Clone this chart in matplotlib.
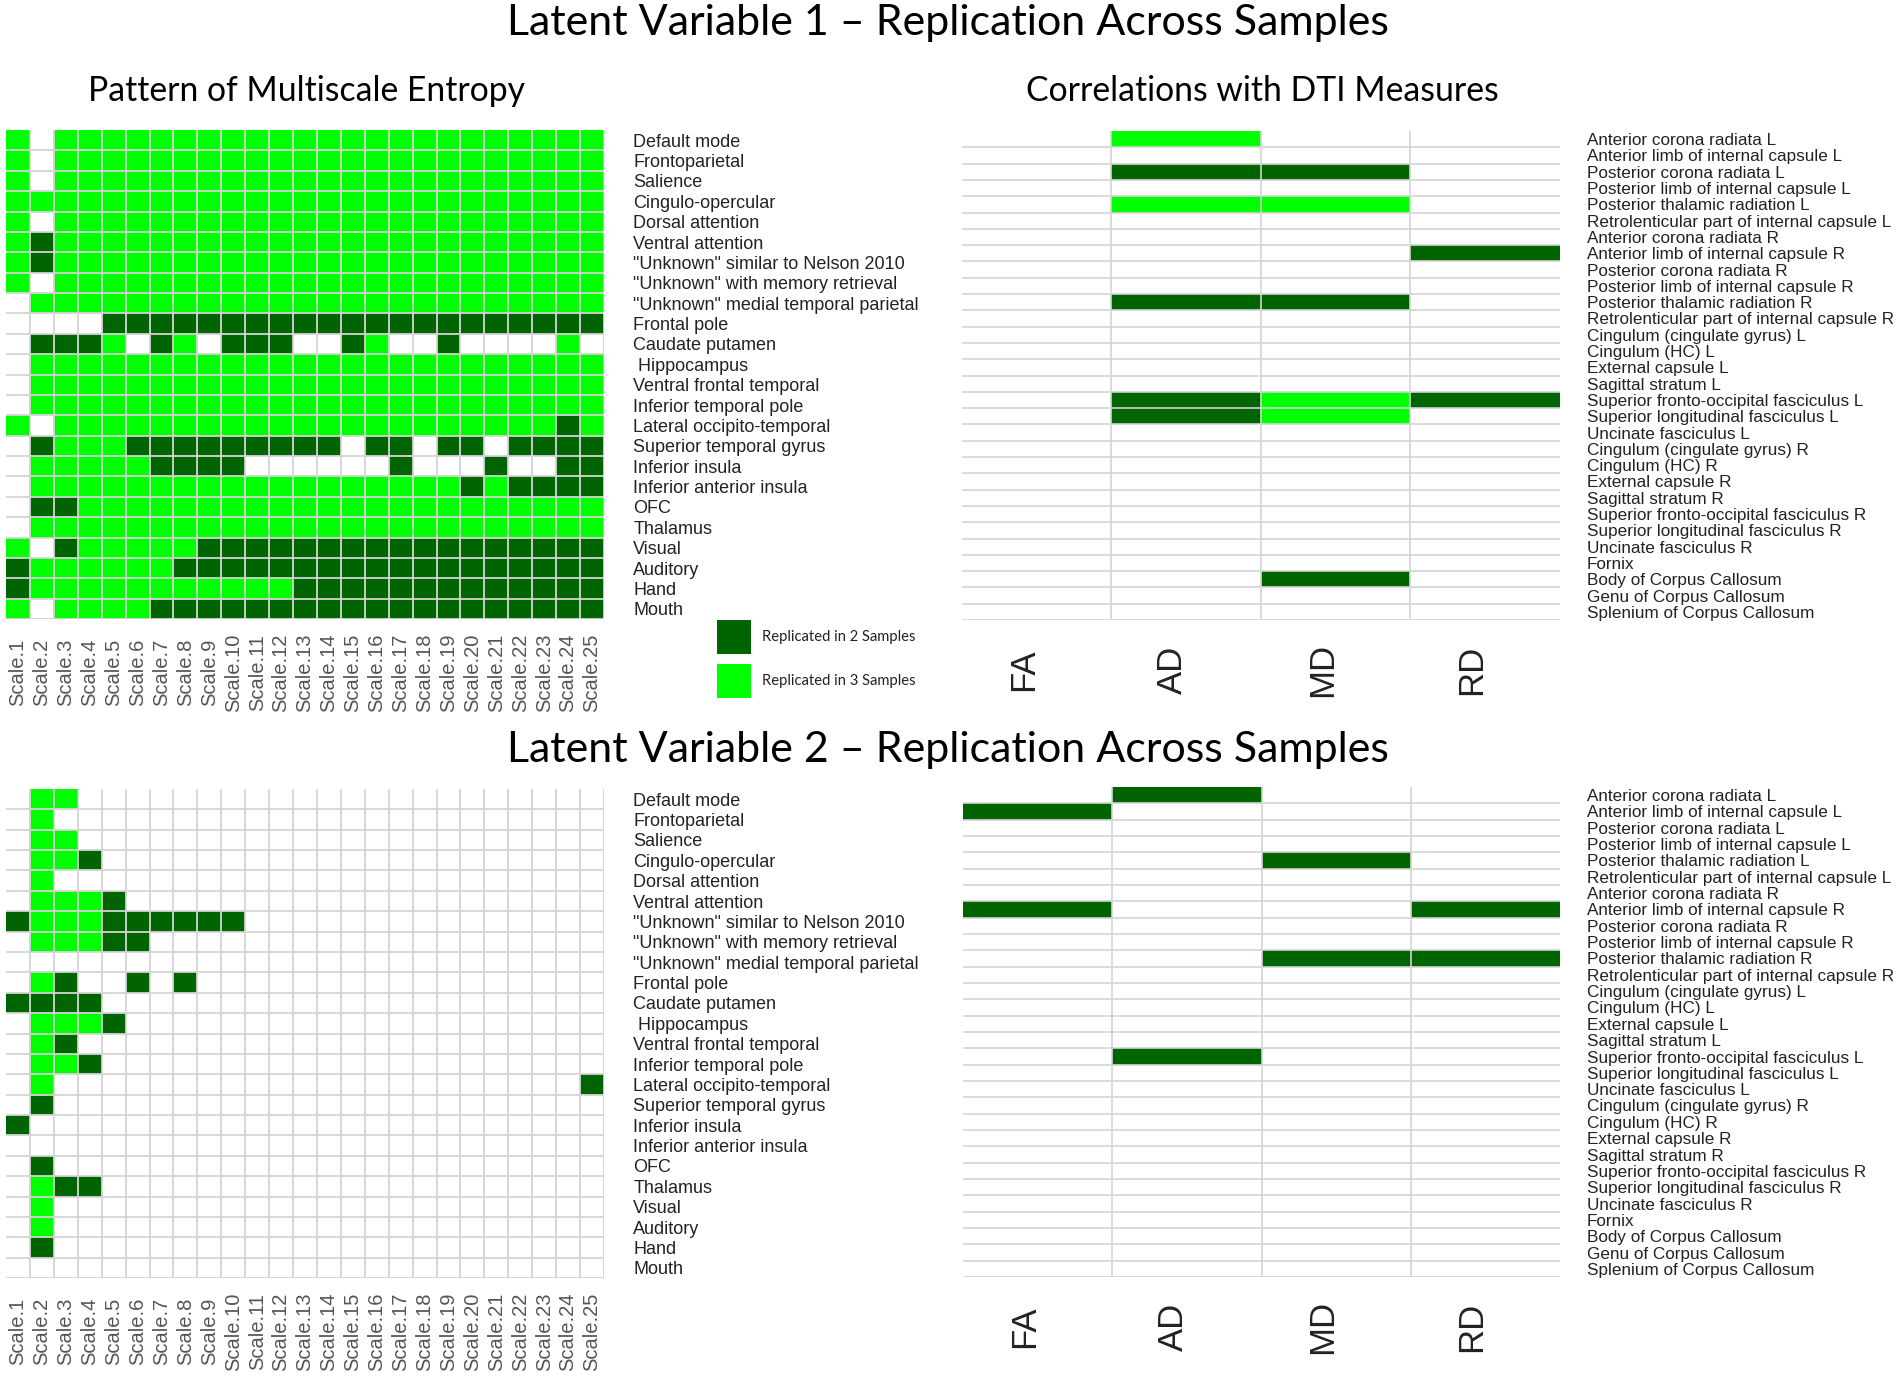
import numpy as np
import matplotlib
matplotlib.use('Agg')
import matplotlib.pyplot as plt
from matplotlib.colors import ListedColormap, BoundaryNorm
from matplotlib.patches import Rectangle

# ---- data -------------------------------------------------------------
networks = ['Default mode', 'Frontoparietal', 'Salience', 'Cingulo-opercular',
            'Dorsal attention', 'Ventral attention',
            '"Unknown" similar to Nelson 2010', '"Unknown" with memory retrieval',
            '"Unknown" medial temporal parietal', 'Frontal pole', 'Caudate putamen',
            ' Hippocampus', 'Ventral frontal temporal', 'Inferior temporal pole',
            'Lateral occipito-temporal', 'Superior temporal gyrus', 'Inferior insula',
            'Inferior anterior insula', 'OFC', 'Thalamus', 'Visual', 'Auditory',
            'Hand', 'Mouth']
scales = ['Scale.%d' % i for i in range(1, 26)]

tracts = ['Anterior corona radiata L', 'Anterior limb of internal capsule L',
          'Posterior corona radiata L', 'Posterior limb of internal capsule L',
          'Posterior thalamic radiation L', 'Retrolenticular part of internal capsule L',
          'Anterior corona radiata R', 'Anterior limb of internal capsule R',
          'Posterior corona radiata R', 'Posterior limb of internal capsule R',
          'Posterior thalamic radiation R', 'Retrolenticular part of internal capsule R',
          'Cingulum (cingulate gyrus) L', 'Cingulum (HC) L', 'External capsule L',
          'Sagittal stratum L', 'Superior fronto-occipital fasciculus L',
          'Superior longitudinal fasciculus L', 'Uncinate fasciculus L',
          'Cingulum (cingulate gyrus) R', 'Cingulum (HC) R', 'External capsule R',
          'Sagittal stratum R', 'Superior fronto-occipital fasciculus R',
          'Superior longitudinal fasciculus R', 'Uncinate fasciculus R', 'Fornix',
          'Body of Corpus Callosum', 'Genu of Corpus Callosum',
          'Splenium of Corpus Callosum']
measures = ['FA', 'AD', 'MD', 'RD']

# 0 = not replicated, 2 = replicated in 2 samples, 3 = replicated in 3 samples
lv1_mse = [
    '3033333333333333333333333',
    '3033333333333333333333333',
    '3033333333333333333333333',
    '3333333333333333333333333',
    '3033333333333333333333333',
    '3233333333333333333333333',
    '3233333333333333333333333',
    '3033333333333333333333333',
    '0333333333333333333333333',
    '0000222222222222222222222',
    '0222302302220023002000030',
    '0333333333333333333333333',
    '0333333333333333333333333',
    '0333333333333333333333333',
    '3033333333333333333333323',
    '0233322222222202202202222',
    '0333332222000000200020022',
    '0333333333333333333232222',
    '0223333333333333333333333',
    '0333333333333333333333333',
    '3023333322222222222222222',
    '2333333222222222222222222',
    '2333333333332222222222222',
    '3033332222222222222222222',
]
lv2_mse = [
    '0330000000000000000000000',
    '0300000000000000000000000',
    '0330000000000000000000000',
    '0332000000000000000000000',
    '0300000000000000000000000',
    '0333200000000000000000000',
    '2333222222000000000000000',
    '0333220000000000000000000',
    '0000000000000000000000000',
    '0320020200000000000000000',
    '2222000000000000000000000',
    '0333200000000000000000000',
    '0320000000000000000000000',
    '0332000000000000000000000',
    '0300000000000000000000002',
    '0200000000000000000000000',
    '2000000000000000000000000',
    '0000000000000000000000000',
    '0200000000000000000000000',
    '0322000000000000000000000',
    '0300000000000000000000000',
    '0300000000000000000000000',
    '0200000000000000000000000',
    '0000000000000000000000000',
]
# columns: FA AD MD RD
lv1_dti = ['0300', '0000', '0220', '0000', '0330', '0000', '0000', '0002',
           '0000', '0000', '0220', '0000', '0000', '0000', '0000', '0000',
           '0232', '0230', '0000', '0000', '0000', '0000', '0000', '0000',
           '0000', '0000', '0000', '0020', '0000', '0000']
lv2_dti = ['0200', '2000', '0000', '0000', '0020', '0000', '0000', '2002',
           '0000', '0000', '0022', '0000', '0000', '0000', '0000', '0000',
           '0200', '0000', '0000', '0000', '0000', '0000', '0000', '0000',
           '0000', '0000', '0000', '0000', '0000', '0000']

legend_labels = ['Replicated in 2 Samples', 'Replicated in 3 Samples']

# ---- style ------------------------------------------------------------
DARK = '#006400'
LIGHT = '#00ff00'
GRID = '#d4d4d4'
cmap = ListedColormap(['white', DARK, LIGHT])
norm = BoundaryNorm([-0.5, 1, 2.5, 3.5], 3)
LABEL_FONT = 'Liberation Sans'
TITLE_FONT = 'Lato'

W, H = 1900, 1378


def to_matrix(rows):
    return np.array([[int(c) for c in r] for r in rows])


def fig_rect(x0, y0, x1, y1):
    # pixel box (top-left origin) -> figure fraction
    return [x0 / W, 1 - y1 / H, (x1 - x0) / W, (y1 - y0) / H]


def draw_mse(ax, rows):
    m = to_matrix(rows)
    nr, nc = m.shape
    ax.pcolormesh(np.arange(nc + 1), np.arange(nr + 1), m, cmap=cmap, norm=norm)
    ax.hlines(np.arange(1, nr + 1), 0, nc, color=GRID, lw=1.3)
    ax.vlines(np.arange(1, nc + 1), 0, nr, color=GRID, lw=1.3)
    ax.set_xlim(0, nc)
    ax.set_ylim(nr, 0)
    for s in ax.spines.values():
        s.set_visible(False)
    ax.set_xticks([])
    ax.yaxis.tick_right()
    ax.set_yticks(np.arange(nr) + 0.5)
    ax.set_yticklabels(networks, fontsize=13, family=LABEL_FONT, color='#222222')
    ax.tick_params(axis='y', length=0, pad=21)
    for i, s in enumerate(scales):
        ax.text(i + 0.5, -0.11, s, transform=ax.get_xaxis_transform(),
                rotation=90, ha='center', va='center', fontsize=14.5,
                family=LABEL_FONT, color='#555555')


def draw_dti(ax, rows):
    m = to_matrix(rows)
    nr, nc = m.shape
    ax.pcolormesh(np.arange(nc + 1), np.arange(nr + 1), m, cmap=cmap, norm=norm)
    ax.hlines(np.arange(1, nr + 1), 0, nc, color=GRID, lw=1.2)
    ax.vlines(np.arange(1, nc), 0, nr, color=GRID, lw=1.2)
    ax.set_xlim(0, nc)
    ax.set_ylim(nr, 0)
    for s in ax.spines.values():
        s.set_visible(False)
    ax.set_xticks([])
    ax.yaxis.tick_right()
    ax.set_yticks(np.arange(nr) + 0.5)
    ax.set_yticklabels(tracts, fontsize=12.3, family=LABEL_FONT, color='#222222')
    ax.tick_params(axis='y', length=0, pad=19.4)
    for i, s in enumerate(measures):
        ax.text(i + 0.41, -0.102, s, transform=ax.get_xaxis_transform(),
                rotation=90, ha='center', va='center', fontsize=25,
                family=LABEL_FONT, color='#222222')


fig = plt.figure(figsize=(19, 13.78), dpi=100)

ax1 = fig.add_axes(fig_rect(6, 130, 604, 619))
draw_mse(ax1, lv1_mse)
ax2 = fig.add_axes(fig_rect(962, 131, 1560, 620))
draw_dti(ax2, lv1_dti)
ax3 = fig.add_axes(fig_rect(6, 789, 604, 1278))
draw_mse(ax3, lv2_mse)
ax4 = fig.add_axes(fig_rect(963, 787, 1560, 1277))
draw_dti(ax4, lv2_dti)

fig.text(948 / W, 1 - 23 / H, 'Latent Variable 1 \u2013 Replication Across Samples',
         ha='center', va='center', fontsize=31, family=TITLE_FONT)
fig.text(948 / W, 1 - 750 / H, 'Latent Variable 2 \u2013 Replication Across Samples',
         ha='center', va='center', fontsize=31, family=TITLE_FONT)
fig.text(307 / W, 1 - 91 / H, 'Pattern of Multiscale Entropy',
         ha='center', va='center', fontsize=24.3, family=TITLE_FONT)
fig.text(1262 / W, 1 - 91 / H, 'Correlations with DTI Measures',
         ha='center', va='center', fontsize=24.3, family=TITLE_FONT)

# legend
for (y0, col, lab) in [(620, DARK, legend_labels[0]), (664, LIGHT, legend_labels[1])]:
    fig.patches.append(Rectangle((717 / W, 1 - (y0 + 34) / H), 34 / W, 34 / H,
                                 transform=fig.transFigure, facecolor=col,
                                 edgecolor='none'))
    fig.text(762 / W, 1 - (y0 + 17) / H, lab, ha='left', va='center',
             fontsize=10.6, family=TITLE_FONT, color='#222222')

fig.savefig('out.png', dpi=100, facecolor='white')
